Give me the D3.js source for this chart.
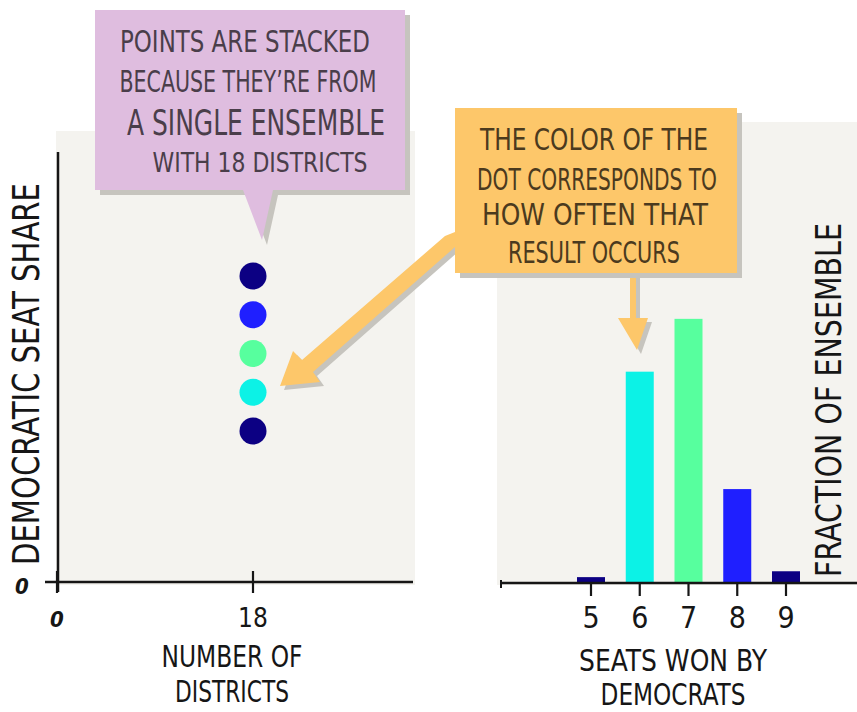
<!DOCTYPE html>
<html><head><meta charset="utf-8">
<script src="https://cdn.jsdelivr.net/npm/d3@7"></script>
<style>
html,body{margin:0;padding:0;background:#fff;}
svg{display:block;}
text{font-family:"Liberation Sans Narrow","DejaVu Sans Condensed","Open Sans",sans-serif;}
</style></head>
<body><svg id="c" width="857" height="712"></svg>
<script>
// ---- data ----
const seats = [5, 6, 7, 8, 9];
const fractions = [0.01, 0.36, 0.45, 0.16, 0.02];
const seatColors = ["#0c0083", "#0cf2e6", "#57ff9e", "#1f1fff", "#0c0083"];
const numDistricts = 18;
const leftXTicks = [0, 18];
const leftYTicks = [0];
const leftXTitle = ["NUMBER OF", "DISTRICTS"];
const leftYTitle = "DEMOCRATIC SEAT SHARE";
const rightXTitle = ["SEATS WON BY", "DEMOCRATS"];
const rightYTitle = "FRACTION OF ENSEMBLE";
const pinkNote = ["POINTS ARE STACKED", "BECAUSE THEY\u2019RE FROM", "A SINGLE ENSEMBLE", "WITH 18 DISTRICTS"];
const orangeNote = ["THE COLOR OF THE", "DOT CORRESPONDS TO", "HOW OFTEN THAT", "RESULT OCCURS"];

const svg = d3.select("#c");
const ink = "#161616", panel = "#f4f3ef", shadow = "#c6c4be";

// ---- panels ----
svg.append("rect").attr("x", 56).attr("y", 131).attr("width", 359).attr("height", 454).attr("fill", panel);
svg.append("rect").attr("x", 497).attr("y", 122).attr("width", 360).attr("height", 463).attr("fill", panel);

// ---- left chart ----
const xL = d3.scaleLinear().domain([0, 18]).range([57, 253]);
const yL = d3.scaleLinear().domain([5/18, 9/18]).range([431, 276]);
const gL = svg.append("g");
gL.append("line").attr("x1", 58).attr("x2", 58).attr("y1", 152).attr("y2", 592).attr("stroke", ink).attr("stroke-width", 2.5);
gL.append("line").attr("x1", 45).attr("x2", 413).attr("y1", 582).attr("y2", 582).attr("stroke", ink).attr("stroke-width", 2.5);
leftXTicks.forEach(t => {
  gL.append("line").attr("x1", xL(t)).attr("x2", xL(t)).attr("y1", 571).attr("y2", 593).attr("stroke", ink).attr("stroke-width", 2.2);
});
gL.append("text").attr("x", xL(0)).attr("y", 627).attr("text-anchor", "middle")
  .attr("font-size", 22).attr("font-weight", "bold").attr("font-style", "italic").attr("fill", ink).text(leftXTicks[0]);
gL.append("text").attr("x", xL(18)).attr("y", 627).attr("text-anchor", "middle")
  .attr("font-size", 26).attr("fill", ink).text(leftXTicks[1]);
gL.append("text").attr("x", 22).attr("y", 594).attr("text-anchor", "middle")
  .attr("font-size", 22).attr("font-weight", "bold").attr("font-style", "italic").attr("fill", ink).text(leftYTicks[0]);
gL.selectAll("text.xt").data(leftXTitle).join("text").attr("class", "xt")
  .attr("x", 232).attr("y", (d, i) => 667 + i * 35).attr("text-anchor", "middle")
  .attr("font-size", 30).attr("fill", ink)
  .attr("textLength", (d, i) => i === 0 ? 141 : 114).attr("lengthAdjust", "spacingAndGlyphs").text(d => d);
gL.append("text").attr("transform", "translate(39,374) rotate(-90)").attr("text-anchor", "middle")
  .attr("font-size", 38).attr("fill", ink).attr("textLength", 382).attr("lengthAdjust", "spacingAndGlyphs").text(leftYTitle);
gL.selectAll("circle").data(seats).join("circle")
  .attr("cx", xL(numDistricts)).attr("cy", d => yL(d / numDistricts)).attr("r", 13.5)
  .attr("fill", (d, i) => seatColors[i]);

// ---- right chart ----
const xR = d3.scaleLinear().domain([5, 9]).range([591, 786]);
const yR = d3.scaleLinear().domain([0, 0.5]).range([583, 289.5]);
const bw = 28;
const gR = svg.append("g");
gR.selectAll("rect").data(seats).join("rect")
  .attr("x", d => xR(d) - bw / 2).attr("width", bw)
  .attr("y", (d, i) => yR(fractions[i])).attr("height", (d, i) => yR(0) - yR(fractions[i]))
  .attr("fill", (d, i) => seatColors[i]);
gR.append("line").attr("x1", 500).attr("x2", 857).attr("y1", 583).attr("y2", 583).attr("stroke", ink).attr("stroke-width", 2.5);
gR.append("line").attr("x1", 501).attr("x2", 501).attr("y1", 580).attr("y2", 588).attr("stroke", ink).attr("stroke-width", 2);
seats.forEach(s => {
  gR.append("line").attr("x1", xR(s)).attr("x2", xR(s)).attr("y1", 583).attr("y2", 596).attr("stroke", ink).attr("stroke-width", 2.2);
  gR.append("text").attr("x", xR(s)).attr("y", 628).attr("text-anchor", "middle")
    .attr("font-size", 30).attr("fill", ink).text(s);
});
gR.selectAll("text.xt").data(rightXTitle).join("text").attr("class", "xt")
  .attr("x", 673).attr("y", (d, i) => 671 + i * 34).attr("text-anchor", "middle")
  .attr("font-size", 30).attr("fill", ink)
  .attr("textLength", (d, i) => i === 0 ? 188 : 145).attr("lengthAdjust", "spacingAndGlyphs").text(d => d);
gR.append("text").attr("transform", "translate(841,400) rotate(-90)").attr("text-anchor", "middle")
  .attr("font-size", 36).attr("fill", ink).attr("textLength", 354).attr("lengthAdjust", "spacingAndGlyphs").text(rightYTitle);

// ---- callouts ----
function callout(pts, fill, off) {
  const line = d3.line();
  svg.append("path").attr("d", line(pts.map(p => [p[0] + off[0], p[1] + off[1]])) + "Z").attr("fill", shadow);
  svg.append("path").attr("d", line(pts) + "Z").attr("fill", fill);
}
// pink speech bubble
callout([[95, 10], [405, 10], [405, 190], [273, 190], [262, 240], [243, 190], [95, 190]], "#dfbddf", [5, 5]);
const pinkSpec = [[245, 52, 250], [248, 92, 257], [256, 135, 258], [260, 172, 215]];
svg.selectAll("text.pn").data(pinkNote).join("text").attr("class", "pn")
  .attr("x", (d, i) => pinkSpec[i][0]).attr("y", (d, i) => pinkSpec[i][1]).attr("text-anchor", "middle")
  .attr("font-size", (d, i) => i === 2 ? 36 : (i === 3 ? 27 : 31)).attr("fill", "#4a3e4a")
  .attr("textLength", (d, i) => pinkSpec[i][2]).attr("lengthAdjust", "spacingAndGlyphs").text(d => d);

// orange arrows (shadow first)
function arrow(pts, off) {
  const line = d3.line();
  svg.append("path").attr("d", line(pts.map(p => [p[0] + off[0], p[1] + off[1]])) + "Z").attr("fill", shadow);
  svg.append("path").attr("d", line(pts) + "Z").attr("fill", "#fdc76a");
}
// diagonal arrow to dots
arrow([[455, 232], [455, 247], [313, 372], [320, 382], [280, 386], [293, 351], [302, 360], [445, 236]], [4, 4]);
// down arrow to bar
arrow([[630, 270], [636, 270], [636, 318], [648, 318], [637, 350], [618, 318], [630, 318]], [4, 4]);

// orange box
callout([[455, 108], [737, 108], [737, 273], [455, 273]], "#fdc76a", [5, 5]);
const orSpec = [[594, 150, 228], [597, 190, 240], [595, 225, 226], [594, 263, 172]];
svg.selectAll("text.on").data(orangeNote).join("text").attr("class", "on")
  .attr("x", (d, i) => orSpec[i][0]).attr("y", (d, i) => orSpec[i][1]).attr("text-anchor", "middle")
  .attr("font-size", 31).attr("fill", "#4b3a1e")
  .attr("textLength", (d, i) => orSpec[i][2]).attr("lengthAdjust", "spacingAndGlyphs").text(d => d);
</script></body></html>
